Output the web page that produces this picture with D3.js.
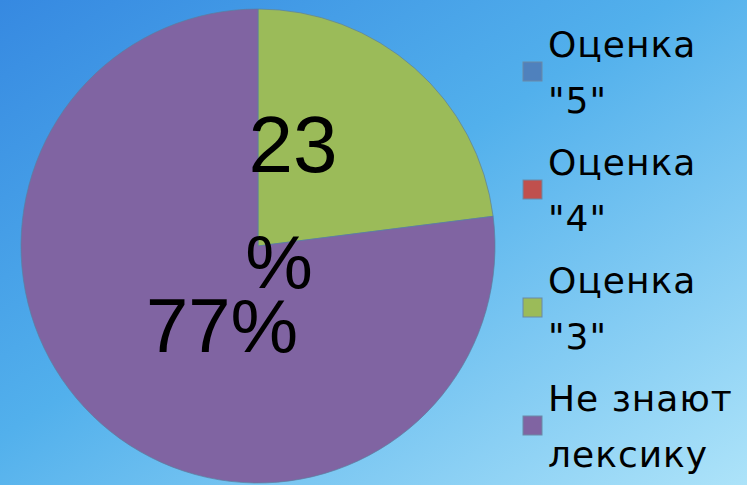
<!DOCTYPE html>
<html><head><meta charset="utf-8">
<script src="https://cdn.jsdelivr.net/npm/d3@7"></script>
<style>html,body{margin:0;padding:0;overflow:hidden;background:#4aa6ea}</style>
</head><body>
<script>
const categories = ["Оценка \"5\"", "Оценка \"4\"", "Оценка \"3\"", "Не знают лексику"];
const legendLines = [["Оценка", "\"5\""], ["Оценка", "\"4\""], ["Оценка", "\"3\""], ["Не знают", "лексику"]];
const values = [0, 0, 23, 77];
const labels = ["", "", "23%", "77%"];
const colors = ["#4F81BD", "#C0504D", "#9BBB59", "#8064A2"];

const W = 747, H = 485;
const svg = d3.select("body").append("svg").attr("width", W).attr("height", H);
const defs = svg.append("defs");
const g1 = defs.append("linearGradient").attr("id", "bg").attr("x1", "0").attr("y1", "0").attr("x2", "1").attr("y2", "1");
g1.append("stop").attr("offset", "0").attr("stop-color", "#3689e1");
g1.append("stop").attr("offset", "0.45").attr("stop-color", "#52b0ec");
g1.append("stop").attr("offset", "1").attr("stop-color", "#ade3f9");
svg.append("rect").attr("width", W).attr("height", H).attr("fill", "url(#bg)");

const cx = 258, cy = 246, R = 237;
const pie = d3.pie().sort(null).value(d => d)(values);
const arc = d3.arc().innerRadius(0).outerRadius(R);
const gp = svg.append("g").attr("transform", `translate(${cx},${cy})`);
gp.selectAll("path").data(pie).join("path")
  .attr("d", arc).attr("fill", (d, i) => colors[i])
  .attr("stroke", "#5a7fa0").attr("stroke-width", 1).attr("stroke-opacity", 0.7);

// data labels
const font = "'Liberation Sans', Arial, sans-serif";
const lab = svg.append("g").attr("font-family", font).attr("fill", "#000");
const l3 = labels[2];
const t3 = lab.append("text").attr("text-anchor", "middle");
t3.append("tspan").attr("x", cx + 35).attr("y", 172).attr("font-size", 80).text(l3.slice(0, 2));
t3.append("tspan").attr("x", cx + 21).attr("y", 288).attr("font-size", 76).text(l3.slice(2));
lab.append("text").attr("text-anchor", "middle").attr("font-size", 76)
  .attr("x", cx - 36).attr("y", 352).text(labels[3]);

// legend
const lg = svg.append("g").attr("font-family", "'DejaVu Sans', sans-serif").attr("font-size", 36)
  .attr("letter-spacing", 1).attr("fill", "#000");
const step = 118;
categories.forEach((c, i) => {
  const y0 = 57 + i * step;
  lg.append("rect").attr("x", 523).attr("y", y0 + 5).attr("width", 19).attr("height", 19)
    .attr("fill", colors[i]).attr("stroke", "#6a8aa8").attr("stroke-width", 1);
  lg.append("text").attr("x", 548).attr("y", y0).text(legendLines[i][0]);
  lg.append("text").attr("x", 548).attr("y", y0 + 56).text(legendLines[i][1]);
});
</script>
</body></html>
